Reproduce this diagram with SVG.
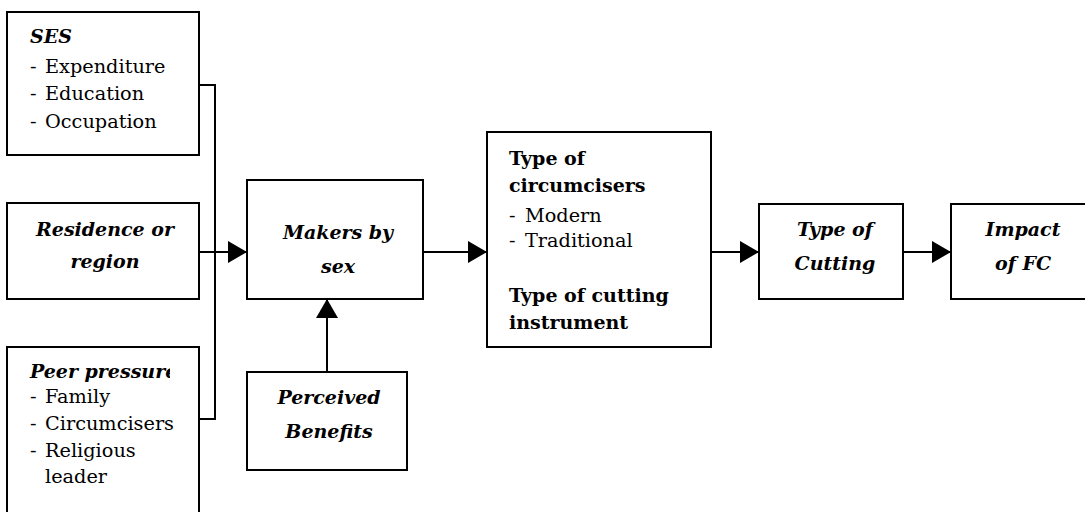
<svg xmlns="http://www.w3.org/2000/svg" width="1085" height="512" viewBox="0 0 1085 512">
<style>
.box{fill:#fff;stroke:#000;stroke-width:2}
.ln{fill:none;stroke:#000;stroke-width:2}
.bi{font-family:"DejaVu Serif",serif;font-weight:bold;font-style:italic;font-size:19px;fill:#000}
.b{font-family:"DejaVu Serif",serif;font-weight:bold;font-size:19px;fill:#000}
.r{font-family:"DejaVu Serif",serif;font-size:19.3px;fill:#000}
.c{text-anchor:middle}
</style>
<defs>
<marker id="ah" markerWidth="19" markerHeight="22" refX="19" refY="11" orient="auto" markerUnits="userSpaceOnUse">
<path d="M0,0 L19,11 L0,22 Z" fill="#000"/>
</marker>
<clipPath id="peerclip"><rect x="0" y="340" width="170" height="60"/></clipPath>
</defs>
<rect width="1085" height="512" fill="#fff"/>
<g id="connectors">
<polyline class="ln" points="199,85 215,85 215,419 199,419"/>
<line class="ln" x1="199" y1="252" x2="247" y2="252" marker-end="url(#ah)"/>
<line class="ln" x1="423" y1="252" x2="487" y2="252" marker-end="url(#ah)"/>
<line class="ln" x1="327" y1="372" x2="327" y2="299" marker-end="url(#ah)"/>
<line class="ln" x1="711" y1="252" x2="759" y2="252" marker-end="url(#ah)"/>
<line class="ln" x1="903" y1="252" x2="951" y2="252" marker-end="url(#ah)"/>
</g>
<g id="ses">
<rect class="box" x="7" y="12" width="192" height="143"/>
<text class="bi" x="30" y="43">SES</text>
<text class="r" x="30" y="73">-<tspan x="45">Expenditure</tspan></text>
<text class="r" x="30" y="100">-<tspan x="45">Education</tspan></text>
<text class="r" x="30" y="128">-<tspan x="45">Occupation</tspan></text>
</g>
<g id="residence">
<rect class="box" x="7" y="203" width="192" height="96"/>
<text class="bi c" x="105" y="236">Residence or</text>
<text class="bi c" x="105" y="268">region</text>
</g>
<g id="peer">
<rect class="box" x="7" y="347" width="192" height="170"/>
<text class="bi" x="30" y="378" clip-path="url(#peerclip)">Peer pressure</text>
<text class="r" x="30" y="403">-<tspan x="45">Family</tspan></text>
<text class="r" x="30" y="430">-<tspan x="45">Circumcisers</tspan></text>
<text class="r" x="30" y="457">-<tspan x="45">Religious</tspan></text>
<text class="r" x="45" y="483">leader</text>
</g>
<g id="makers">
<rect class="box" x="247" y="180" width="176" height="119"/>
<text class="bi c" x="338" y="239">Makers by</text>
<text class="bi c" x="338" y="273">sex</text>
</g>
<g id="perceived">
<rect class="box" x="247" y="372" width="160" height="98"/>
<text class="bi c" x="329" y="404">Perceived</text>
<text class="bi c" x="329" y="438">Benefits</text>
</g>
<g id="circumcisers">
<rect class="box" x="487" y="132" width="224" height="215"/>
<text class="b" x="509" y="165">Type of</text>
<text class="b" x="509" y="192">circumcisers</text>
<text class="r" x="509" y="222">-<tspan x="525">Modern</tspan></text>
<text class="r" x="509" y="247">-<tspan x="525">Traditional</tspan></text>
<text class="b" x="509" y="302">Type of cutting</text>
<text class="b" x="509" y="329">instrument</text>
</g>
<g id="cutting">
<rect class="box" x="759" y="204" width="144" height="95"/>
<text class="bi c" x="835" y="236">Type of</text>
<text class="bi c" x="835" y="270">Cutting</text>
</g>
<g id="impact">
<rect class="box" x="951" y="204" width="140" height="95"/>
<text class="bi c" x="1023" y="236">Impact</text>
<text class="bi c" x="1023" y="270">of FC</text>
</g>
</svg>
